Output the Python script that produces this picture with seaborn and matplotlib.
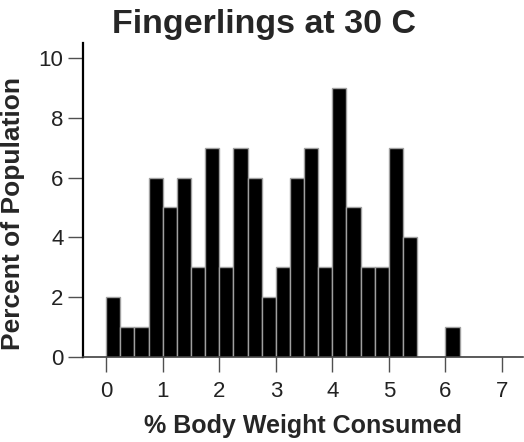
import numpy as np
import pandas as pd
import seaborn as sns
import matplotlib.pyplot as plt

# bins of 0.25 % body weight, percent of fish in each bin
bin_start = [0.00, 0.25, 0.50, 0.75, 1.00, 1.25, 1.50, 1.75, 2.00, 2.25,
             2.50, 2.75, 3.00, 3.25, 3.50, 3.75, 4.00, 4.25, 4.50, 4.75,
             5.00, 5.25, 5.50, 5.75, 6.00]
percent = [2, 1, 1, 6, 5, 6, 3, 7, 3, 7,
           6, 2, 3, 6, 7, 3, 9, 5, 3, 3,
           7, 4, 0, 0, 1]
bin_width = 0.25

df = pd.DataFrame({"consumed": np.array(bin_start) + bin_width / 2, "pct": percent})

sns.set_style("white")
plt.rcParams["font.family"] = ["Liberation Sans", "DejaVu Sans"]

fig = plt.figure(figsize=(5.24, 4.42), dpi=100)
ax = fig.add_axes([0.1584, 0.1916, 0.8406, 0.7118])

sns.histplot(data=df, x="consumed", weights="pct", binwidth=bin_width,
             binrange=(0, 7.25), ax=ax,
             color="black", edgecolor="#a0a0a0", linewidth=1, alpha=1)

ax.set_xlim(-0.41, 7.38)
ax.set_ylim(0, 10.5)
ax.set_xticks(range(0, 8))
ax.set_yticks(range(0, 11, 2))

for s in ["top", "right"]:
    ax.spines[s].set_visible(False)
ax.spines["left"].set_color("black")
ax.spines["left"].set_linewidth(1.6)
ax.spines["bottom"].set_color("#404040")
ax.spines["bottom"].set_linewidth(1.2)

ax.tick_params(axis="both", direction="out", length=11, width=1,
               color="#505050", labelsize=16, labelcolor="#222222")
ax.tick_params(axis="x", pad=6)
ax.tick_params(axis="y", pad=3)
ax.tick_params(left=True, bottom=True)

ax.set_xlabel("% Body Weight Consumed", fontsize=18, fontweight="bold", labelpad=9)
ax.set_ylabel("Percent of Population", fontsize=19, fontweight="bold")
ax.yaxis.set_label_coords(-0.131, 0.457)

fig.text(0.504, 0.925, "Fingerlings at 30 C", ha="center", va="baseline",
         fontsize=24.5, fontweight="bold")

fig.savefig("out.png", dpi=100)
